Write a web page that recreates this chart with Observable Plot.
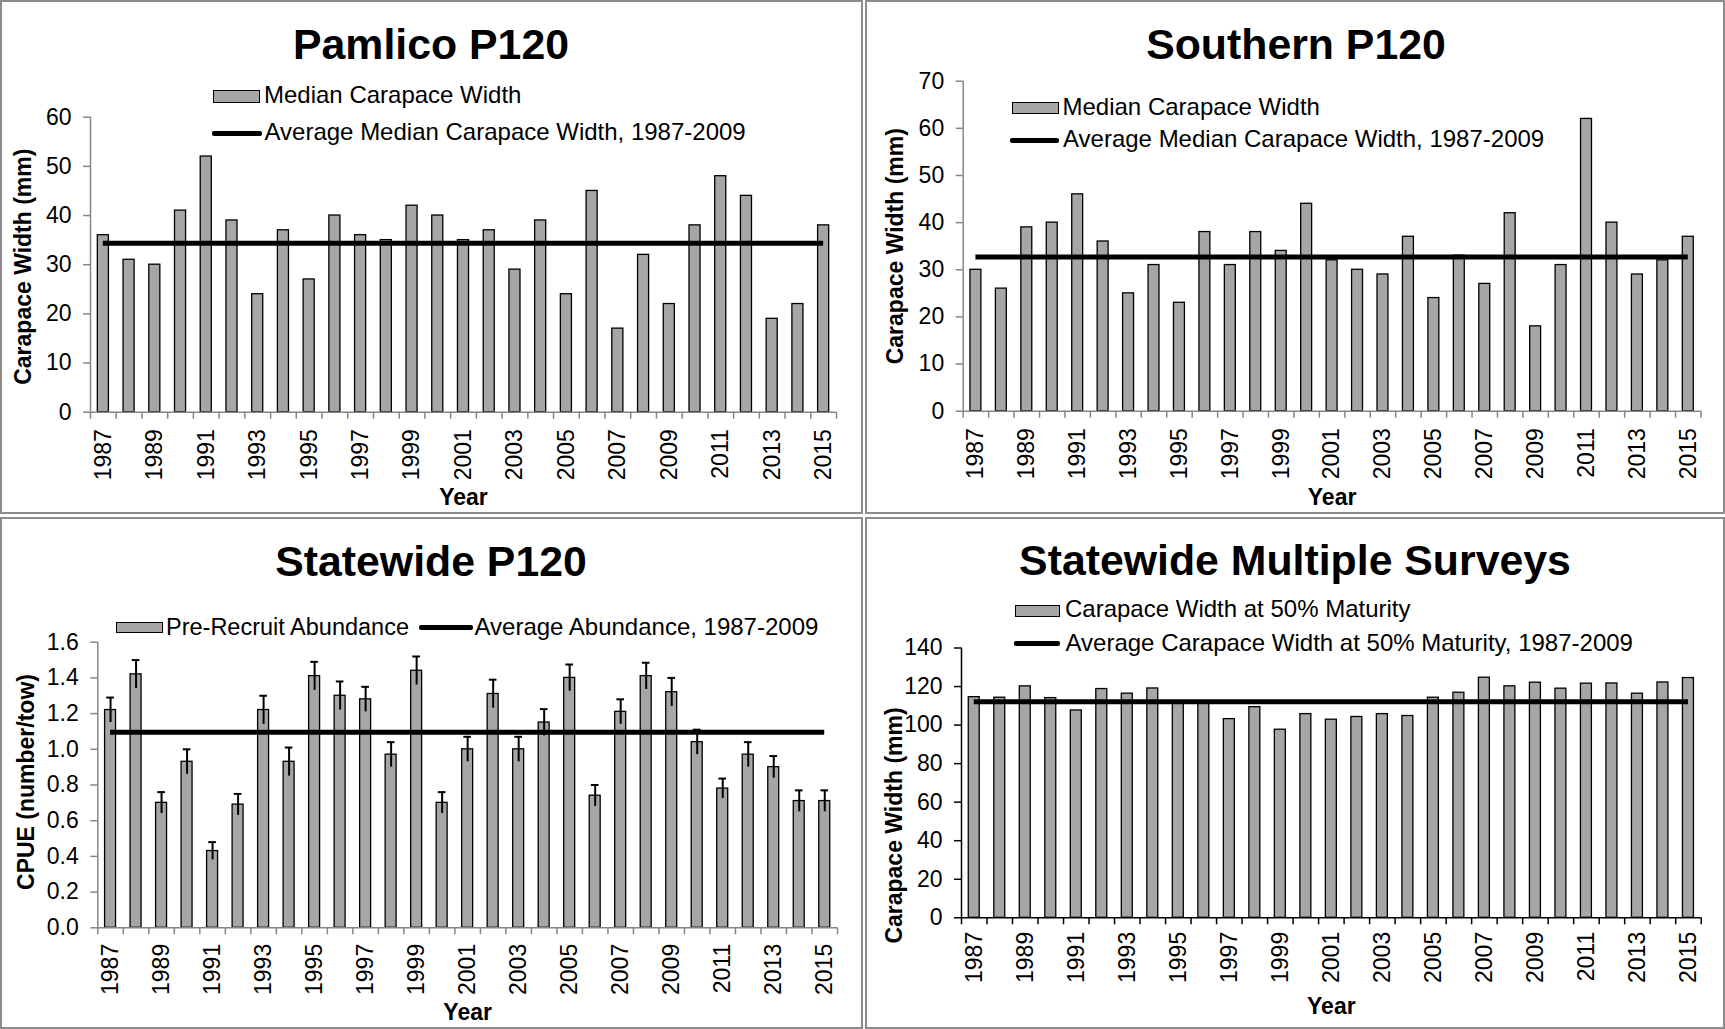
<!DOCTYPE html>
<html>
<head>
<meta charset="utf-8">
<script src="https://cdn.jsdelivr.net/npm/d3@7"></script>
<script src="https://cdn.jsdelivr.net/npm/@observablehq/plot@0.6"></script>
<style>
  html, body { margin: 0; padding: 0; background: #fff; }
  #root { position: relative; width: 1725px; height: 1029px; overflow: hidden; background: #fff; }
  .panel { position: absolute; box-sizing: border-box; border: 2px solid #8c8c8c; }
</style>
</head>
<body>
<div id="root"></div>
<script>
// ---------------- DATA ----------------
const years = [1987,1988,1989,1990,1991,1992,1993,1994,1995,1996,1997,1998,1999,2000,
               2001,2002,2003,2004,2005,2006,2007,2008,2009,2010,2011,2012,2013,2014,2015];

const pamlicoMedianWidth = [36,31,30,41,52,39,24,37,27,40,36,35,42,40,35,37,29,39,24,45,17,32,22,38,48,44,19,22,38];
const pamlicoAverage = 34.35;
const pamlicoTicks = [0,10,20,30,40,50,60];

const southernMedianWidth = [30,26,39,40,46,36,25,31,23,38,31,38,34,44,32,30,29,37,24,33,27,42,18,31,62,40,29,32,37];
const southernAverage = 32.7;
const southernTicks = [0,10,20,30,40,50,60,70];

const statewideCPUE = [1.22,1.42,0.70,0.93,0.43,0.69,1.22,0.93,1.41,1.30,1.28,0.97,1.44,0.70,1.00,1.31,1.00,1.15,1.40,0.74,1.21,1.41,1.32,1.04,0.78,0.97,0.90,0.71,0.71];
const statewideCPUEError = [0.07,0.08,0.06,0.07,0.05,0.06,0.08,0.08,0.08,0.08,0.07,0.07,0.08,0.06,0.07,0.08,0.07,0.075,0.075,0.06,0.07,0.075,0.08,0.07,0.056,0.07,0.062,0.06,0.06];
const statewideAverage = 1.095;
const statewideTicks = [0,0.2,0.4,0.6,0.8,1.0,1.2,1.4,1.6];

const maturityWidth = [114.5,114.2,120.1,114.0,107.6,118.7,116.3,119.0,112.0,111.1,103.1,109.3,97.6,105.7,102.8,104.2,105.7,104.7,114.2,116.8,124.6,120.1,122.0,118.9,121.5,121.6,116.3,122.1,124.4];
const maturityAverage = 112.1;
const maturityTicks = [0,20,40,60,80,100,120,140];

const labelYears = years.filter((y, i) => i % 2 === 0);

// ---------------- STYLE ----------------
const FONT = '"Liberation Sans", Arial, Helvetica, sans-serif';
const BAR_FILL = "#a6a6a6";
const GRAY_AXIS = "#868686";
const BAR_HALF = 0.215;
const LEGEND_SIZE = 24;
const TITLE_SIZE = 42.8;
const root = document.getElementById("root");

function panelBox(left, top, w, h) {
  const d = document.createElement("div");
  d.className = "panel";
  Object.assign(d.style, {left: left + "px", top: top + "px", width: w + "px", height: h + "px"});
  root.appendChild(d);
}

function txt(s, {x, base, size, weight = "normal", align = "left"}) {
  const el = document.createElement("div");
  el.textContent = s;
  Object.assign(el.style, {
    position: "absolute", whiteSpace: "nowrap", fontFamily: FONT,
    fontSize: size + "px", lineHeight: (size * 1.2) + "px", fontWeight: weight, color: "#000",
    top: (base - 0.9465 * size) + "px"
  });
  if (align === "center") {
    el.style.left = (x - 400) + "px"; el.style.width = "800px"; el.style.textAlign = "center";
  } else el.style.left = x + "px";
  root.appendChild(el);
}

function rectSwatch(x1, y1, x2, y2) {
  const d = document.createElement("div");
  Object.assign(d.style, {position: "absolute", left: x1 + "px", top: y1 + "px",
    width: (x2 - x1) + "px", height: (y2 - y1) + "px", background: BAR_FILL,
    border: "1.5px solid #000", boxSizing: "border-box"});
  root.appendChild(d);
}

function lineSwatch(x1, x2, y, th = 5) {
  const d = document.createElement("div");
  Object.assign(d.style, {position: "absolute", left: x1 + "px", top: (y - th / 2) + "px",
    width: (x2 - x1) + "px", height: th + "px", background: "#000", borderRadius: "2px"});
  root.appendChild(d);
}

function chart(cfg) {
  const data = years.map((year, i) => ({year, value: cfg.values[i], err: cfg.err ? cfg.err[i] : 0}));
  const x0 = years[0] - 0.5, xN = years[years.length - 1] + 0.5;
  const boundaries = years.map(y => y - 0.5).concat([xN]);
  const marks = [
    Plot.rectY(data, {x1: d => d.year - BAR_HALF, x2: d => d.year + BAR_HALF, y: "value",
      fill: BAR_FILL, stroke: "#000", strokeWidth: 1.3})
  ];
  if (cfg.err) {
    marks.push(
      Plot.ruleX(data, {x: "year", y1: d => d.value - d.err, y2: d => d.value + d.err, stroke: "#000", strokeWidth: 2}),
      Plot.ruleY(data, {y: d => d.value + d.err, x1: d => d.year - 0.15, x2: d => d.year + 0.15, stroke: "#000", strokeWidth: 2})
    );
  }
  marks.push(
    Plot.ruleY([cfg.avg], {x1: years[0], x2: years[years.length - 1], stroke: "#000", strokeWidth: 5}),
    Plot.ruleX([x0], {stroke: cfg.axisColor, strokeWidth: 1.5}),
    Plot.ruleY([cfg.ticks[0]], {stroke: cfg.axisColor, strokeWidth: 1.5}),
    Plot.axisY({ticks: cfg.ticks, tickSize: 7, tickPadding: 12, tickFormat: cfg.tickFormat,
      stroke: cfg.axisColor, strokeWidth: 1.5, label: null, fontSize: 23}),
    Plot.axisX({ticks: boundaries, tickSize: 7, tickFormat: () => "", stroke: cfg.axisColor, strokeWidth: 1.5, label: null}),
    Plot.axisX({ticks: labelYears, tickSize: 0, tickPadding: cfg.xPad, tickRotate: -90,
      tickFormat: d => String(d), label: null, fontSize: 23}),
    Plot.text([cfg.yTitle], {frameAnchor: "left", dx: cfg.yTitleDx, dy: cfg.yTitleDy, rotate: -90,
      textAnchor: "middle", lineAnchor: "middle",
      fontWeight: "bold", fontSize: 23, fill: "#000"}),
    Plot.text(["Year"], {frameAnchor: "bottom", dy: cfg.yearDy, textAnchor: "middle", lineAnchor: "middle",
      fontWeight: "bold", fontSize: 23, fill: "#000"})
  );
  const svg = Plot.plot({
    width: cfg.w, height: cfg.h,
    marginLeft: cfg.m.l, marginTop: cfg.m.t, marginRight: cfg.m.r, marginBottom: cfg.m.b,
    x: {type: "linear", domain: [x0, xN]},
    y: {type: "linear", domain: [cfg.ticks[0], cfg.ticks[cfg.ticks.length - 1]]},
    style: {fontFamily: FONT, fontSize: "22px", color: "#000", background: "transparent", overflow: "visible"},
    marks
  });
  Object.assign(svg.style, {position: "absolute", left: cfg.left + "px", top: cfg.top + "px", maxWidth: "none"});
  root.appendChild(svg);
}

// ---------------- PANELS ----------------
panelBox(0, 0, 863, 514);
panelBox(865, 0, 860, 514);
panelBox(0, 517, 863, 512);
panelBox(865, 517, 860, 512);

chart({left: 0, top: 0, w: 862, h: 513, m: {l: 90, t: 116.7, r: 26, b: 101.3},
  values: pamlicoMedianWidth, avg: pamlicoAverage, ticks: pamlicoTicks, tickFormat: d => String(d),
  axisColor: GRAY_AXIS, yTitle: "Carapace Width (mm)", yTitleDx: -66.7, yTitleDy: 2, yearDy: 85.3, xPad: 17});

chart({left: 865, top: 0, w: 860, h: 513, m: {l: 97.7, t: 80.7, r: 24.5, b: 102.3},
  values: southernMedianWidth, avg: southernAverage, ticks: southernTicks, tickFormat: d => String(d),
  axisColor: GRAY_AXIS, yTitle: "Carapace Width (mm)", yTitleDx: -67.2, yTitleDy: 0, yearDy: 86.3, xPad: 17});

chart({left: 0, top: 517, w: 862, h: 512, m: {l: 97.3, t: 124.7, r: 25, b: 101.7},
  values: statewideCPUE, err: statewideCPUEError, avg: statewideAverage, ticks: statewideTicks,
  tickFormat: d3.format(".1f"), axisColor: GRAY_AXIS, yTitle: "CPUE (number/tow)",
  yTitleDx: -71, yTitleDy: -3, yearDy: 84.7, xPad: 16});

chart({left: 865, top: 517, w: 860, h: 512, m: {l: 96, t: 130.5, r: 24.3, b: 111.7},
  values: maturityWidth, avg: maturityAverage, ticks: maturityTicks, tickFormat: d => String(d),
  axisColor: "#000", yTitle: "Carapace Width (mm)", yTitleDx: -66.5, yTitleDy: 42.6, yearDy: 88.7, xPad: 14});

// ---------------- TITLES & LEGENDS ----------------
txt("Pamlico P120", {x: 431, base: 60, size: TITLE_SIZE, weight: "bold", align: "center"});
txt("Southern P120", {x: 1296, base: 60, size: TITLE_SIZE, weight: "bold", align: "center"});
txt("Statewide P120", {x: 431, base: 576.5, size: TITLE_SIZE, weight: "bold", align: "center"});
txt("Statewide Multiple Surveys", {x: 1295, base: 575.5, size: TITLE_SIZE, weight: "bold", align: "center"});

rectSwatch(213, 90, 260, 103.3);
txt("Median Carapace Width", {x: 264, base: 103.3, size: LEGEND_SIZE});
lineSwatch(212, 262, 133.3);
txt("Average Median Carapace Width, 1987-2009", {x: 264.5, base: 140.7, size: LEGEND_SIZE});

rectSwatch(1012, 102.3, 1058.7, 114.3);
txt("Median Carapace Width", {x: 1062.5, base: 116, size: LEGEND_SIZE});
lineSwatch(1010, 1059, 140);
txt("Average Median Carapace Width, 1987-2009", {x: 1063, base: 147.3, size: LEGEND_SIZE});

rectSwatch(116, 621.7, 162.7, 633.3);
txt("Pre-Recruit Abundance", {x: 166, base: 635.7, size: 23.5});
lineSwatch(419, 473, 627.7);
txt("Average Abundance, 1987-2009", {x: 474.5, base: 635.7, size: LEGEND_SIZE});

rectSwatch(1015, 604.6, 1060, 617);
txt("Carapace Width at 50% Maturity", {x: 1065, base: 618, size: LEGEND_SIZE});
lineSwatch(1014, 1060, 643.8);
txt("Average Carapace Width at 50% Maturity, 1987-2009", {x: 1065.5, base: 651.5, size: LEGEND_SIZE});
</script>
</body>
</html>
